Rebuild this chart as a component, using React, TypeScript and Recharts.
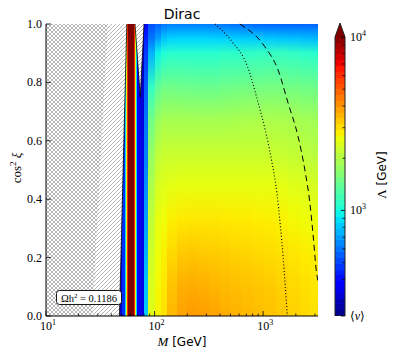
import React from 'react';
import { ComposedChart, Area, Line, XAxis, YAxis } from 'recharts';

// colour scale: log-normalised between <v> and 10^4 GeV (jet, extend max)
const VEV = 246;
const LAMBDA_MAX = 10000;
const CBAR_TOP = 12050; // tip of the extend-max triangle
const CBAR_LEVELS = 48;

const xMajor = [10, 100, 1000];
const xTicks = [10, 20, 30, 40, 50, 60, 70, 80, 90, 100, 200, 300, 400, 500, 600, 700, 800, 900, 1000, 2000, 3000];
const yTicks = [0, 0.2, 0.4, 0.6, 0.8, 1.0];
const cbarTicks = [VEV, 300, 400, 500, 600, 700, 800, 900, 1000, 2000, 3000, 4000, 5000, 6000, 7000, 8000, 9000, 10000];
const cbarMajor = [VEV, 1000, 10000];

// narrow bands around the Higgs resonance, Λ roughly constant in cos²ξ
const bandEdges = [47.5, 50, 53, 54.5, 56, 57.5, 64.5, 66, 67.5, 69, 73];
const bandLambda = [320, 460, 850, 2400, 6000, 15000, 6000, 2400, 850, 380];

// main region: Λ [GeV] per mass column, read at each cos²ξ level
const massEdges = [73, 80, 87, 100, 115, 130, 160, 200, 250, 320, 400, 500, 630, 800, 1000, 1300, 1700, 2200, 2700, 3200];
const cosLevels = [0, 0.1, 0.2, 0.33, 0.45, 0.56, 0.67, 0.78, 0.9, 0.95, 1];
const lambdaGrid = [
  [340, 340, 340, 340, 340, 340, 330, 320, 300, 290, 280],
  [820, 790, 750, 700, 650, 620, 600, 560, 480, 440, 400],
  [2450, 2400, 2300, 2150, 1950, 1750, 1500, 1150, 750, 600, 520],
  [2750, 2700, 2650, 2550, 2350, 2100, 1800, 1400, 950, 700, 560],
  [2950, 2900, 2800, 2650, 2450, 2200, 1900, 1500, 1050, 800, 600],
  [3500, 3350, 3100, 2800, 2500, 2200, 1900, 1500, 1080, 840, 620],
  [3800, 3600, 3300, 2870, 2550, 2200, 1900, 1480, 1080, 850, 620],
  [3900, 3650, 3330, 2900, 2550, 2200, 1900, 1470, 1080, 850, 620],
  [3850, 3600, 3300, 2900, 2550, 2200, 1900, 1460, 1080, 850, 620],
  [3750, 3520, 3260, 2900, 2550, 2200, 1900, 1460, 1080, 840, 610],
  [3650, 3460, 3220, 2870, 2550, 2200, 1900, 1480, 1100, 840, 600],
  [3560, 3400, 3170, 2850, 2550, 2200, 1920, 1500, 1100, 830, 590],
  [3480, 3350, 3140, 2850, 2550, 2200, 1940, 1520, 1120, 820, 580],
  [3420, 3300, 3100, 2820, 2550, 2200, 1950, 1530, 1130, 820, 570],
  [3350, 3250, 3050, 2800, 2540, 2200, 1950, 1540, 1140, 810, 560],
  [3260, 3160, 3000, 2760, 2500, 2180, 1940, 1540, 1140, 800, 560],
  [3160, 3060, 2920, 2700, 2450, 2150, 1920, 1520, 1120, 790, 560],
  [3060, 2980, 2850, 2650, 2400, 2100, 1880, 1500, 1100, 780, 560],
  [2970, 2900, 2800, 2600, 2350, 2060, 1850, 1480, 1080, 770, 560],
];

// excluded (hatched) regions, M at cos²ξ = 0 and 1
const excludedMass = [47.5, 55.5];
const crossMass = [26.6, 37];
const vMass = [66, 73.8, 80];
const vTipCos = 0.75;

// contour lines
const dottedMass = [360, 515, 720, 870, 1040, 1200, 1340, 1440, 1530, 1600, 1670];
const dottedCos = [1.0, 0.94, 0.853, 0.75, 0.64, 0.53, 0.42, 0.31, 0.2, 0.1, 0.0];
const dashedMass = [610, 1037, 1374, 1698, 2102, 2423, 2692, 2890, 3097, 3200];
const dashedCos = [1.0, 0.922, 0.842, 0.729, 0.613, 0.5, 0.387, 0.274, 0.151, 0.12];

const R = [[0, 0], [0.35, 0], [0.66, 1], [0.89, 1], [1, 0.5]];
const G = [[0, 0], [0.125, 0], [0.375, 1], [0.64, 1], [0.91, 0], [1, 0]];
const B = [[0, 0.5], [0.11, 1], [0.34, 1], [0.65, 0], [1, 0]];

function lerp(pts: number[][], t: number) {
  for (let i = 1; i < pts.length; i++) {
    if (t <= pts[i][0]) {
      const [t0, v0] = pts[i - 1];
      const [t1, v1] = pts[i];
      return v0 + ((v1 - v0) * (t - t0)) / (t1 - t0);
    }
  }
  return pts[pts.length - 1][1];
}

function jetT(t: number) {
  const c = Math.max(0, Math.min(1, t));
  const f = (p: number[][]) => Math.round(255 * lerp(p, c));
  return `rgb(${f(R)},${f(G)},${f(B)})`;
}

const LOG_LO = Math.log10(VEV);
const LOG_HI = Math.log10(LAMBDA_MAX);
const jet = (lam: number) => jetT((Math.log10(lam) - LOG_LO) / (LOG_HI - LOG_LO));

const box = (m0: number, m1: number, lo = 0, hi = 1) => [
  { m: m0, r: [lo, hi] },
  { m: m1, r: [lo, hi] },
];

const hatchOuter = [{ m: 10, r: [0, 1] }, { m: excludedMass[0], r: [0, 1] }, { m: excludedMass[1], r: [1, 1] }];
const hatchInner = [{ m: 10, r: [0, 1] }, { m: crossMass[0], r: [0, 1] }, { m: crossMass[1], r: [1, 1] }];
const vRegion = [{ m: vMass[0], r: [1, 1] }, { m: vMass[1], r: [vTipCos, 1] }, { m: vMass[2], r: [1, 1] }];
const edgeLine = [{ m: excludedMass[0], c: 0 }, { m: excludedMass[1], c: 1 }];
const vLine = [{ m: vMass[0], c: 1 }, { m: vMass[1], c: vTipCos }, { m: vMass[2], c: 1 }];
const dotted = dottedMass.map((m, i) => ({ m, c: dottedCos[i] }));
const dashed = dashedMass.map((m, i) => ({ m, c: dashedCos[i] }));

const cbarBands = Array.from({ length: CBAR_LEVELS }, (_, i) => {
  const lo = Math.pow(10, LOG_LO + ((LOG_HI - LOG_LO) * i) / CBAR_LEVELS);
  const hi = Math.pow(10, LOG_LO + ((LOG_HI - LOG_LO) * (i + 1)) / CBAR_LEVELS);
  return { lo, hi, color: jetT((i + 0.5) / CBAR_LEVELS) };
});
const cbarOutline = [
  { x: 0, v: VEV }, { x: 0, v: LAMBDA_MAX }, { x: 0.5, v: CBAR_TOP },
  { x: 1, v: LAMBDA_MAX }, { x: 1, v: VEV }, { x: 0, v: VEV },
];

const serif = 'Liberation Serif, DejaVu Serif, serif';
const sans = 'DejaVu Sans, sans-serif';

function Pow({ x, y, exp, anchor = 'middle' }: any) {
  return (
    <text x={x} y={y} textAnchor={anchor} fontFamily={serif} fontSize={12} fill="#000">
      10<tspan dy={-5} fontSize={8}>{exp}</tspan>
    </text>
  );
}

function BottomTick({ x, y, payload }: any) {
  const major = xMajor.includes(payload.value);
  return (
    <g>
      <line x1={x} x2={x} y1={y} y2={y - (major ? 5 : 2.5)} stroke="#000" strokeWidth={0.8} />
      {major && <Pow x={x + 2} y={y + 14} exp={Math.round(Math.log10(payload.value))} />}
    </g>
  );
}

function TopTick({ x, y, payload }: any) {
  const major = xMajor.includes(payload.value);
  return <line x1={x} x2={x} y1={y} y2={y + (major ? 5 : 2.5)} stroke="#000" strokeWidth={0.8} />;
}

function LeftTick({ x, y, payload }: any) {
  return (
    <g>
      <line x1={x} x2={x + 5} y1={y} y2={y} stroke="#000" strokeWidth={0.8} />
      <text x={x - 4} y={y + 4} textAnchor="end" fontFamily={serif} fontSize={12} fill="#000">
        {payload.value.toFixed(1)}
      </text>
    </g>
  );
}

function RightTick({ x, y }: any) {
  return <line x1={x} x2={x - 5} y1={y} y2={y} stroke="#000" strokeWidth={0.8} />;
}

function CbarTick({ x, y, payload }: any) {
  const v = payload.value;
  const major = cbarMajor.includes(v);
  return (
    <g>
      <line x1={x} x2={x - (major ? 4 : 2.5)} y1={y} y2={y} stroke="#000" strokeWidth={0.8} />
      {v === VEV ? (
        <text x={x + 5} y={y + 4} fontFamily={serif} fontSize={12} fill="#000">
          <tspan fontFamily="DejaVu Serif">⟨</tspan>
          <tspan fontStyle="italic">v</tspan>
          <tspan fontFamily="DejaVu Serif">⟩</tspan>
        </text>
      ) : major ? (
        <Pow x={x + 5} y={y + 4} exp={Math.round(Math.log10(v))} anchor="start" />
      ) : null}
    </g>
  );
}

function Defs() {
  return (
    <svg width={0} height={0} style={{ position: 'absolute' }}>
      <defs>
        {lambdaGrid.map((row, i) => (
          <linearGradient key={i} id={`col${i}`} x1="0" y1="1" x2="0" y2="0">
            {row.map((lam, j) => (
              <stop key={j} offset={cosLevels[j]} stopColor={jet(lam)} />
            ))}
          </linearGradient>
        ))}
        <pattern id="hatchFwd" width={4} height={4} patternUnits="userSpaceOnUse">
          <rect width={4} height={4} fill="#fff" />
          <path d="M-1,1 l2,-2 M0,4 l4,-4 M3,5 l2,-2" stroke="#7a7a7a" strokeWidth={0.55} />
        </pattern>
        <pattern id="hatchBack" width={4} height={4} patternUnits="userSpaceOnUse">
          <path d="M-1,3 l2,2 M0,0 l4,4 M3,-1 l2,2" stroke="#7a7a7a" strokeWidth={0.55} />
        </pattern>
      </defs>
    </svg>
  );
}

const areaProps = {
  xAxisId: 'b',
  yAxisId: 'l',
  dataKey: 'r',
  type: 'linear' as const,
  stroke: 'none',
  fillOpacity: 1,
  dot: false,
  activeDot: false,
  isAnimationActive: false,
};

export default function App() {
  return (
    <div style={{ position: 'absolute', left: 0, top: 0, width: 395, height: 357, background: '#fff' }}>
      <Defs />
      <ComposedChart width={395} height={357} margin={{ top: 24, right: 77, bottom: 11, left: 6 }}>
        <XAxis xAxisId="b" type="number" dataKey="m" scale="log" domain={[10, 3200]} allowDataOverflow
          ticks={xTicks} interval={0} height={30} tickSize={0} tickMargin={0}
          axisLine={{ stroke: '#000' }} tick={(p: any) => <BottomTick {...p} />} />
        <XAxis xAxisId="t" orientation="top" type="number" dataKey="m" scale="log" domain={[10, 3200]} allowDataOverflow
          ticks={xTicks} interval={0} height={0} tickSize={0} tickMargin={0}
          axisLine={{ stroke: '#000' }} tick={(p: any) => <TopTick {...p} />} />
        <YAxis yAxisId="l" type="number" domain={[0, 1]} ticks={yTicks} interval={0} width={40}
          tickSize={0} tickMargin={0} axisLine={{ stroke: '#000' }} tick={(p: any) => <LeftTick {...p} />} />
        <YAxis yAxisId="r" orientation="right" type="number" domain={[0, 1]} ticks={yTicks} interval={0} width={0}
          tickSize={0} tickMargin={0} axisLine={{ stroke: '#000' }} tick={(p: any) => <RightTick {...p} />} />

        {bandLambda.map((lam, i) => (
          <Area key={`b${i}`} {...areaProps} data={box(bandEdges[i], bandEdges[i + 1])} fill={jet(lam)} shapeRendering="crispEdges" />
        ))}
        {lambdaGrid.map((_, i) => (
          <Area key={`c${i}`} {...areaProps} data={box(massEdges[i], massEdges[i + 1])} fill={`url(#col${i})`} shapeRendering="crispEdges" />
        ))}

        <Area {...areaProps} data={hatchOuter} fill="url(#hatchFwd)" />
        <Area {...areaProps} data={hatchInner} fill="url(#hatchBack)" />
        <Area {...areaProps} data={vRegion} fill="url(#hatchFwd)" />

        <Line xAxisId="b" yAxisId="l" data={edgeLine} dataKey="c" type="linear" stroke="#000" strokeWidth={0.8} dot={false} activeDot={false} isAnimationActive={false} />
        <Line xAxisId="b" yAxisId="l" data={vLine} dataKey="c" type="linear" stroke="#000" strokeWidth={0.8} dot={false} activeDot={false} isAnimationActive={false} />
        <Line xAxisId="b" yAxisId="l" data={dotted} dataKey="c" type="monotone" stroke="#000" strokeWidth={1.1} strokeDasharray="1 2.2" dot={false} activeDot={false} isAnimationActive={false} />
        <Line xAxisId="b" yAxisId="l" data={dashed} dataKey="c" type="monotone" stroke="#000" strokeWidth={1} strokeDasharray="6 4" dot={false} activeDot={false} isAnimationActive={false} />
      </ComposedChart>

      <div style={{ position: 'absolute', left: 320, top: 0 }}>
        <ComposedChart width={75} height={357} margin={{ top: 23, right: 10, bottom: 41, left: 15 }}>
          <XAxis xAxisId="c" type="number" dataKey="x" domain={[0, 1]} hide />
          <YAxis yAxisId="c" orientation="right" type="number" scale="log" domain={[VEV, CBAR_TOP]} allowDataOverflow
            ticks={cbarTicks} interval={0} width={40} axisLine={false} tickSize={0} tickMargin={0}
            tick={(p: any) => <CbarTick {...p} />} />
          {cbarBands.map((b, i) => (
            <Area key={i} xAxisId="c" yAxisId="c" dataKey="r" type="linear" stroke="none" fillOpacity={1}
              data={[{ x: 0, r: [b.lo, b.hi] }, { x: 1, r: [b.lo, b.hi] }]} fill={b.color}
              shapeRendering="crispEdges" dot={false} activeDot={false} isAnimationActive={false} />
          ))}
          <Area xAxisId="c" yAxisId="c" dataKey="r" type="linear" stroke="none" fillOpacity={1}
            data={[{ x: 0, r: [LAMBDA_MAX, LAMBDA_MAX] }, { x: 0.5, r: [LAMBDA_MAX, CBAR_TOP] }, { x: 1, r: [LAMBDA_MAX, LAMBDA_MAX] }]}
            fill={jetT(1)} dot={false} activeDot={false} isAnimationActive={false} />
          <Line xAxisId="c" yAxisId="c" data={cbarOutline} dataKey="v" type="linear" stroke="#222" strokeWidth={1}
            dot={false} activeDot={false} isAnimationActive={false} />
        </ComposedChart>
      </div>

      <svg width={395} height={357} style={{ position: 'absolute', left: 0, top: 0, pointerEvents: 'none' }}>
        <text x={182} y={18.5} textAnchor="middle" fontFamily={sans} fontSize={14} fill="#000">Dirac</text>
        <text transform="translate(21,168) rotate(-90)" textAnchor="middle" fontFamily={serif} fontSize={13} fill="#000">
          cos<tspan dy={-5} fontSize={9}>2</tspan><tspan dy={5} fontStyle="italic"> ξ</tspan>
        </text>
        <text x={182} y={346} textAnchor="middle" fill="#000">
          <tspan fontFamily={serif} fontStyle="italic" fontSize={13}>M</tspan>
          <tspan fontFamily={sans} fontSize={12}> [GeV]</tspan>
        </text>
        <text transform="translate(386,175) rotate(-90)" textAnchor="middle" fill="#000">
          <tspan fontFamily={serif} fontSize={13}>Λ</tspan>
          <tspan fontFamily={sans} fontSize={12}> [GeV]</tspan>
        </text>
        <rect x={56.5} y={290.5} width={65} height={14} rx={3} fill="#fff" stroke="#000" strokeWidth={0.9} />
        <text x={89} y={301.5} textAnchor="middle" fontFamily={serif} fontSize={10.5} fill="#000">
          Ωh<tspan dy={-4} fontSize={7}>2</tspan><tspan dy={4}> = 0.1186</tspan>
        </text>
      </svg>
    </div>
  );
}
